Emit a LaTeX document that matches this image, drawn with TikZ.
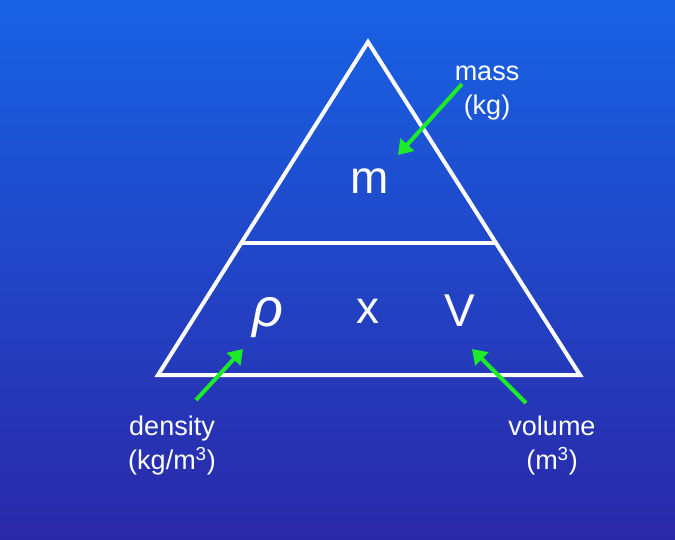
\documentclass[tikz,border=0pt]{standalone}
\usepackage{fontspec}
\setmainfont{Liberation Sans}
\usetikzlibrary{arrows.meta}
\definecolor{topblue}{RGB}{24,98,228}
\definecolor{botblue}{RGB}{42,40,168}
\definecolor{arrgreen}{RGB}{30,235,40}
\tikzset{
  edge/.style={draw=white,line width=4pt,line join=miter},
  big/.style={text=white,font=\fontsize{46}{50}\selectfont,inner sep=0pt},
  lbl/.style={text=white,font=\fontsize{27}{34}\selectfont,align=center,inner sep=0pt},
  ptr/.style={draw=arrgreen,line width=4pt,-{Triangle[length=14pt,width=18pt]}}
}
\begin{document}
\begin{tikzpicture}[x=1pt,y=-1pt]
\shade[top color=topblue,bottom color=botblue] (0,0) rectangle (675,539);
\useasboundingbox (0,0) rectangle (675,539);
\coordinate (A) at (368,42);
\coordinate (B) at (158,375);
\coordinate (C) at (580,375);
\coordinate (L) at (241,243);
\coordinate (R) at (496,243);
\draw[edge] (A) -- (B) -- (C) -- cycle;
\draw[edge] (L) -- (R);
\node[big] (m) at (370,181) {m};
\node[big,font=\fontsize{54}{58}\selectfont\itshape] (rho) at (268,318) {ρ};
\node[big] (x) at (368,311) {x};
\node[big] (v) at (460,311) {V};
\node[lbl] (mass) at (487,93) {mass\\(kg)};
\node[lbl] (dens) at (172,446) {density\\(kg/m\textsuperscript{3})};
\node[lbl] (vol) at (552,446) {volume\\(m\textsuperscript{3})};
\coordinate (ms) at (462,84);
\coordinate (mt) at (398,155);
\coordinate (ds) at (196,400);
\coordinate (dt) at (243,349);
\coordinate (vs) at (526,403);
\coordinate (vt) at (472,349);
\draw[ptr] (ms) -- (mt);
\draw[ptr] (ds) -- (dt);
\draw[ptr] (vs) -- (vt);
\end{tikzpicture}
\end{document}
